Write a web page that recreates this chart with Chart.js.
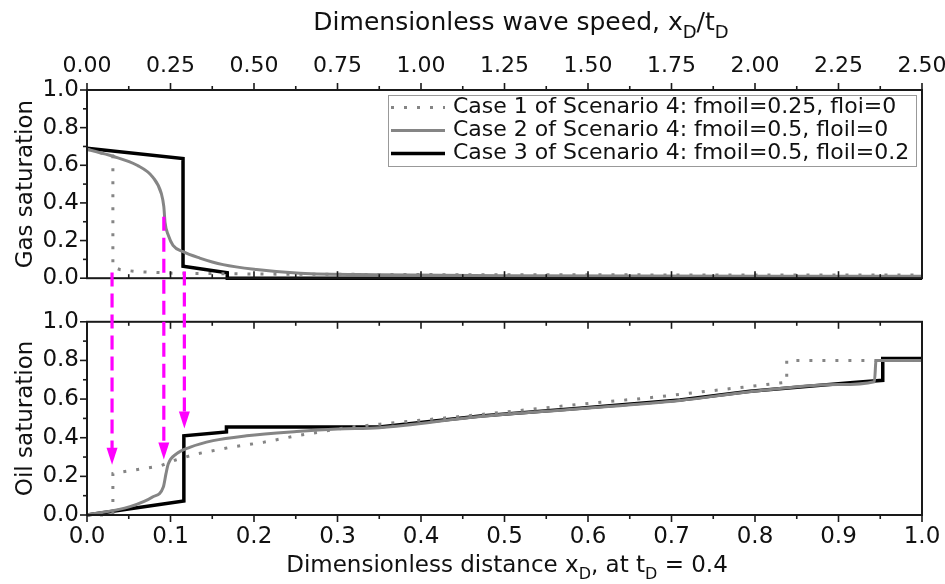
<!DOCTYPE html>
<html>
<head>
<meta charset="utf-8">
<script src="https://cdn.jsdelivr.net/npm/chart.js@4.4.1/dist/chart.umd.min.js"></script>
<style>
  html, body { margin: 0; padding: 0; background: #fff; }
  #wrap { position: relative; width: 945px; height: 584px; overflow: hidden; }
  canvas { position: absolute; left: 0; }
  #gas { top: 0; }
  #oil { top: 300px; }
  #arrows { top: 0; pointer-events: none; }
</style>
</head>
<body>
<div id="wrap">
  <canvas id="gas" width="945" height="300"></canvas>
  <canvas id="oil" width="945" height="284"></canvas>
  <canvas id="arrows" width="945" height="584"></canvas>
</div>
<script>
/* ---------- data ---------- */

const caseLabels = [
  'Case 1 of Scenario 4: fmoil=0.25, floi=0',
  'Case 2 of Scenario 4: fmoil=0.5, floil=0',
  'Case 3 of Scenario 4: fmoil=0.5, floil=0.2'
];

// gas saturation (upper panel)
const gas1X = [0, 0.031, 0.031, 0.04, 0.06, 0.1, 0.2, 0.5, 1.0];
const gas1Y = [0.685, 0.65, 0.06, 0.045, 0.035, 0.027, 0.022, 0.018, 0.017];

const gas2X = [0, 0.031, 0.06, 0.079, 0.089, 0.092, 0.0935, 0.0975, 0.103, 0.115, 0.135, 0.163, 0.203, 0.255, 0.35, 0.5, 1.0];
const gas2Y = [0.685, 0.648, 0.6, 0.536, 0.45, 0.38, 0.295, 0.227, 0.175, 0.141, 0.107, 0.072, 0.046, 0.026, 0.018, 0.013, 0.01];

const gas3X = [0, 0.115, 0.115, 0.168, 0.168, 1.0];
const gas3Y = [0.69, 0.636, 0.063, 0.029, 0, 0];

// oil saturation (lower panel)
const oil1X = [0, 0.031, 0.031, 0.087, 0.107, 0.131, 0.171, 0.211, 0.251, 0.311, 0.351, 0.471, 0.59, 0.674, 0.838, 0.838, 1.0];
const oil1Y = [0, 0, 0.215, 0.253, 0.286, 0.316, 0.35, 0.376, 0.41, 0.453, 0.47, 0.52, 0.573, 0.607, 0.687, 0.80, 0.80];

const oil2X = [0, 0.0515, 0.079, 0.0914, 0.0946, 0.0974, 0.107, 0.123, 0.151, 0.191, 0.251, 0.3, 0.35, 0.471, 0.59, 0.71, 0.794, 0.9, 0.943, 0.945, 1.0];
const oil2Y = [0, 0.043, 0.094, 0.145, 0.214, 0.265, 0.316, 0.35, 0.385, 0.41, 0.432, 0.445, 0.452, 0.51, 0.55, 0.593, 0.638, 0.675, 0.69, 0.80, 0.80];

const oil3X = [0, 0.116, 0.116, 0.167, 0.167, 0.35, 0.471, 0.59, 0.71, 0.794, 0.914, 0.953, 0.953, 1.0];
const oil3Y = [0, 0.072, 0.41, 0.43, 0.456, 0.456, 0.513, 0.552, 0.595, 0.641, 0.684, 0.697, 0.81, 0.81];

// magenta arrows: x position, start (gas sat.), end (oil sat.)
const arrowX = [0.03, 0.092, 0.1166];
const arrowFromGas = [0.03, 0.326, 0.035];
const arrowToOil = [0.26, 0.287, 0.448];

// tick settings
const satStep = 0.2;
const distStep = 0.1;
const speedMax = 2.5;
const speedStep = 0.25;

/* ---------- helpers ---------- */

const FONT = "'DejaVu Sans', sans-serif";
Chart.defaults.font.family = FONT;
Chart.defaults.font.size = 23;
Chart.defaults.color = '#111';

const pts = (xs, ys) => xs.map((x, i) => ({ x: x, y: ys[i] }));

const styles = [
  { borderColor: '#858585', borderWidth: 3, borderDash: [3, 10] },
  { borderColor: '#858585', borderWidth: 3, borderDash: [], cubicInterpolationMode: 'monotone' },
  { borderColor: '#000', borderWidth: 3.5, borderDash: [] }
];

function makeSets(series) {
  return series.map((s, i) => Object.assign({
    label: caseLabels[i],
    data: pts(s[0], s[1]),
    pointRadius: 0,
    tension: 0,
    clip: false,
    fill: false
  }, styles[i]));
}

// keep the plot box fixed, whatever the tick labels want
const noSidePad = s => { s.paddingLeft = 0; s.paddingRight = 0; };

// frame + inward/outward ticks (major + minor)
const framePlugin = {
  id: 'frame',
  afterDatasetsDraw(chart, args, opts) {
    const { ctx, chartArea: a } = chart;
    ctx.save();
    ctx.strokeStyle = '#1a1a1a';
    ctx.lineWidth = 2;
    ctx.strokeRect(a.left, a.top, a.width, a.height);
    ctx.lineWidth = 1.6;
    opts.marks.forEach(m => {
      const s = chart.scales[m.scale];
      const vals = s.ticks.map(t => t.value);
      const draw = (v, len) => {
        const p = s.getPixelForValue(v);
        const d = m.out ? len : -len;
        ctx.beginPath();
        if (m.edge === 'left') { ctx.moveTo(a.left, p); ctx.lineTo(a.left - d, p); }
        if (m.edge === 'top') { ctx.moveTo(p, a.top); ctx.lineTo(p, a.top - d); }
        if (m.edge === 'bottom') { ctx.moveTo(p, a.bottom); ctx.lineTo(p, a.bottom + d); }
        ctx.stroke();
      };
      vals.forEach((v, i) => {
        draw(v, 7);
        if (i < vals.length - 1) draw((v + vals[i + 1]) / 2, 4);
      });
    });
    ctx.restore();
  }
};

// axis caption with subscripts
const captionPlugin = {
  id: 'caption',
  afterDraw(chart, args, opts) {
    const { ctx, chartArea: a } = chart;
    const big = opts.size, small = Math.round(opts.size * 0.7);
    ctx.save();
    ctx.fillStyle = '#111';
    ctx.textBaseline = 'alphabetic';
    let w = 0;
    opts.parts.forEach(p => {
      ctx.font = (p[1] ? small : big) + 'px ' + FONT;
      w += ctx.measureText(p[0]).width;
    });
    const cx = opts.cx || (a.left + a.right) / 2;
    let x = cx - w / 2;
    opts.parts.forEach(p => {
      ctx.font = (p[1] ? small : big) + 'px ' + FONT;
      ctx.fillText(p[0], x, opts.y + (p[1] ? big * 0.3 : 0));
      x += ctx.measureText(p[0]).width;
    });
    ctx.restore();
  }
};

// boxed legend inside the upper panel
const boxLegend = {
  id: 'boxLegend',
  afterDraw(chart, args, opts) {
    const { ctx } = chart;
    const b = opts.box;
    ctx.save();
    ctx.fillStyle = '#fff';
    ctx.fillRect(b.x, b.y, b.w, b.h);
    ctx.strokeStyle = '#999';
    ctx.lineWidth = 1;
    ctx.strokeRect(b.x + 0.5, b.y + 0.5, b.w, b.h);
    ctx.font = opts.size + 'px ' + FONT;
    ctx.textBaseline = 'middle';
    ctx.fillStyle = '#111';
    chart.data.datasets.forEach((ds, i) => {
      const y = b.y + opts.first + i * opts.row;
      ctx.strokeStyle = ds.borderColor;
      ctx.lineWidth = ds.borderWidth;
      ctx.setLineDash(ds.borderDash || []);
      ctx.beginPath();
      ctx.moveTo(b.x + 3, y);
      ctx.lineTo(b.x + 3 + opts.sample, y);
      ctx.stroke();
      ctx.setLineDash([]);
      ctx.fillText(ds.label, b.x + opts.textX, y);
    });
    ctx.restore();
  }
};

const satTicks = {
  stepSize: satStep,
  padding: 8,
  callback: v => v.toFixed(1)
};

const noGrid = { display: false, drawTicks: false };

/* ---------- upper panel: gas saturation ---------- */

const gasChart = new Chart(document.getElementById('gas'), {
  type: 'line',
  data: {
    datasets: makeSets([[gas1X, gas1Y], [gas2X, gas2Y], [gas3X, gas3Y]])
  },
  plugins: [framePlugin, captionPlugin, boxLegend],
  options: {
    responsive: false,
    animation: false,
    layout: { padding: { left: 0, right: 23, top: 0, bottom: 0 } },
    scales: {
      x: {
        type: 'linear', position: 'bottom', min: 0, max: 1,
        grid: noGrid, border: { display: false },
        ticks: { stepSize: distStep, display: false },
        afterFit: s => { s.height = 16; noSidePad(s); }
      },
      x2: {
        type: 'linear', position: 'top', min: 0, max: speedMax,
        grid: noGrid, border: { display: false },
        ticks: { stepSize: speedStep, padding: 11, font: { size: 22 }, callback: v => v.toFixed(2) },
        afterFit: s => { s.height = 90; noSidePad(s); }
      },
      y: {
        type: 'linear', min: 0, max: 1,
        grid: noGrid, border: { display: false },
        ticks: satTicks,
        title: { display: true, text: 'Gas saturation', font: { size: 23 }, padding: { top: 12, bottom: 0 } },
        afterFit: s => { s.width = 87; }
      }
    },
    plugins: {
      legend: { display: false },
      tooltip: { enabled: false },
      frame: {
        marks: [
          { scale: 'y', edge: 'left', out: true },
          { scale: 'x2', edge: 'top', out: true },
          { scale: 'x', edge: 'bottom', out: false }
        ]
      },
      caption: {
        size: 25, y: 30, cx: 521,
        parts: [['Dimensionless wave speed, x', false], ['D', true], ['/t', false], ['D', true]]
      },
      boxLegend: {
        box: { x: 388, y: 95, w: 528, h: 71 },
        size: 22, first: 12.5, row: 23, sample: 54, textX: 65
      }
    }
  }
});

/* ---------- lower panel: oil saturation ---------- */

const oilChart = new Chart(document.getElementById('oil'), {
  type: 'line',
  data: {
    datasets: makeSets([[oil1X, oil1Y], [oil2X, oil2Y], [oil3X, oil3Y]])
  },
  plugins: [framePlugin, captionPlugin],
  options: {
    responsive: false,
    animation: false,
    layout: { padding: { left: 0, right: 23, top: 20, bottom: 0 } },
    scales: {
      x: {
        type: 'linear', position: 'bottom', min: 0, max: 1,
        grid: noGrid, border: { display: false },
        ticks: { stepSize: distStep, padding: 8, callback: v => v.toFixed(1) },
        afterFit: s => { s.height = 69; noSidePad(s); }
      },
      y: {
        type: 'linear', min: 0, max: 1,
        grid: noGrid, border: { display: false },
        ticks: satTicks,
        title: { display: true, text: 'Oil saturation', font: { size: 23 }, padding: { top: 12, bottom: 0 } },
        afterFit: s => { s.width = 87; }
      }
    },
    plugins: {
      legend: { display: false },
      tooltip: { enabled: false },
      frame: {
        marks: [
          { scale: 'y', edge: 'left', out: true },
          { scale: 'x', edge: 'bottom', out: true },
          { scale: 'x', edge: 'top', out: false }
        ]
      },
      caption: {
        size: 23, y: 272, cx: 507,
        parts: [['Dimensionless distance x', false], ['D', true], [', at t', false], ['D', true], [' = 0.4', false]]
      }
    }
  }
});

/* ---------- magenta arrows across both panels ---------- */

(function drawArrows() {
  const ctx = document.getElementById('arrows').getContext('2d');
  const oilTop = document.getElementById('oil').offsetTop;
  const head = 17, half = 5.5;
  ctx.strokeStyle = '#ff00ff';
  ctx.fillStyle = '#ff00ff';
  ctx.lineWidth = 3.2;
  arrowX.forEach((xv, i) => {
    const px = gasChart.scales.x.getPixelForValue(xv);
    const y0 = gasChart.scales.y.getPixelForValue(arrowFromGas[i]);
    const y1 = oilChart.scales.y.getPixelForValue(arrowToOil[i]) + oilTop;
    ctx.setLineDash([14, 7]);
    ctx.beginPath();
    ctx.moveTo(px, y0);
    ctx.lineTo(px, y1 - head + 2);
    ctx.stroke();
    ctx.setLineDash([]);
    ctx.beginPath();
    ctx.moveTo(px - half, y1 - head);
    ctx.lineTo(px + half, y1 - head);
    ctx.lineTo(px, y1);
    ctx.closePath();
    ctx.fill();
  });
})();
</script>
</body>
</html>
